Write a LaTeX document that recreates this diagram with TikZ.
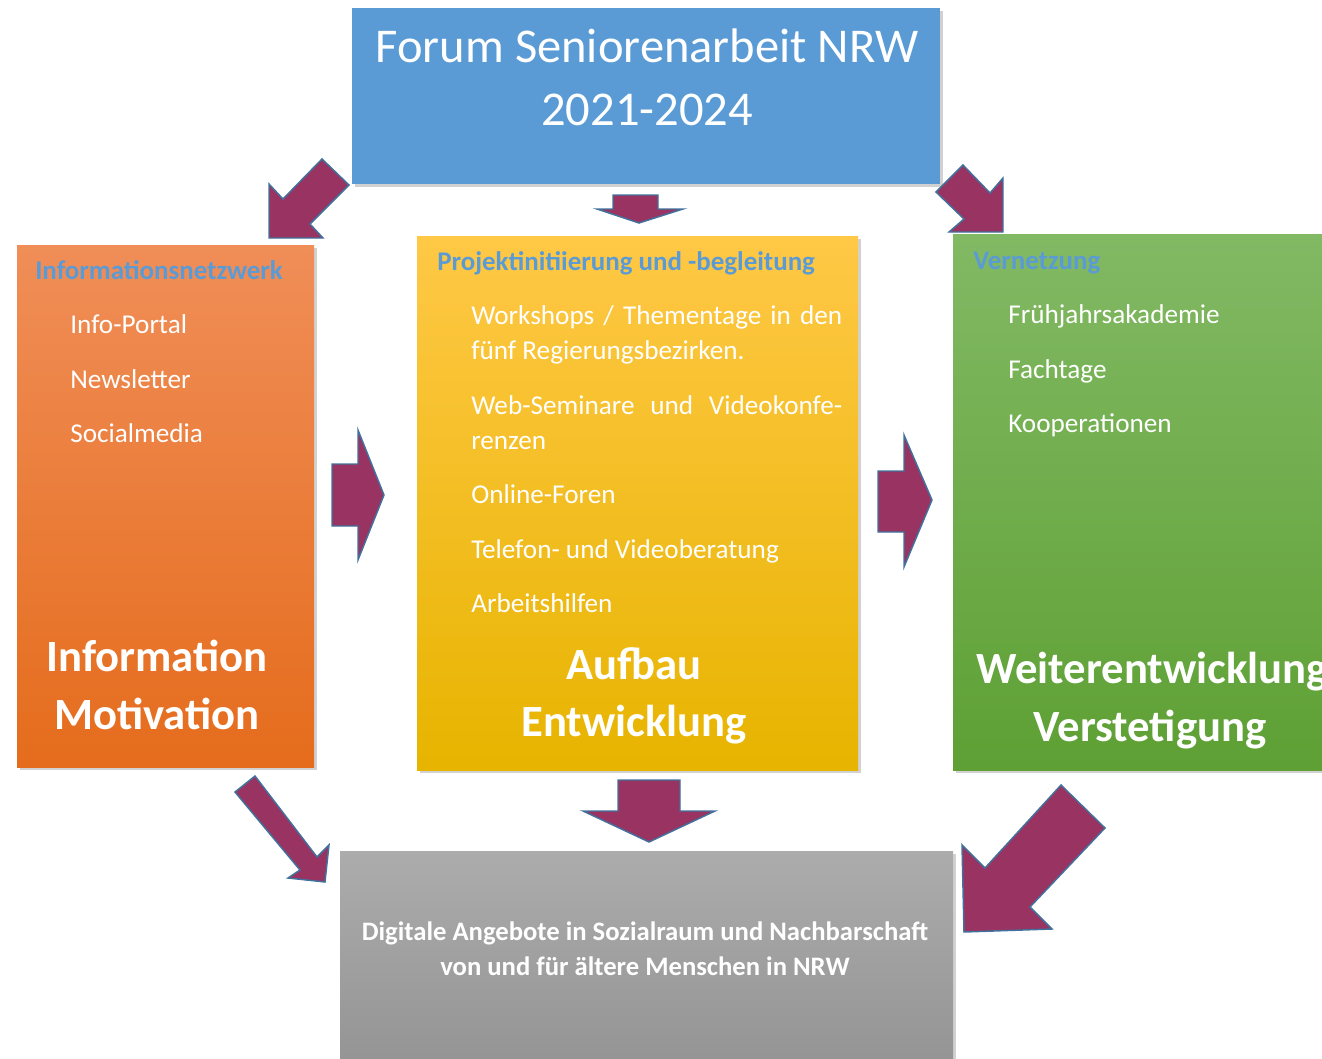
\documentclass[tikz,border=0pt]{standalone}
\usepackage{fontspec}
\setmainfont{Carlito}
\usetikzlibrary{shadows,fit}
\definecolor{boxblue}{RGB}{91,155,213}
\definecolor{hdrblue}{RGB}{91,155,213}
\definecolor{orTop}{RGB}{240,142,88}
\definecolor{orBot}{RGB}{229,108,28}
\definecolor{yeTop}{RGB}{255,200,70}
\definecolor{yeBot}{RGB}{231,180,0}
\definecolor{grTop}{RGB}{130,185,100}
\definecolor{grBot}{RGB}{94,160,52}
\definecolor{gyTop}{RGB}{172,172,172}
\definecolor{gyBot}{RGB}{142,142,142}
\definecolor{arrfill}{RGB}{153,51,98}
\definecolor{arredge}{RGB}{65,113,156}
\begin{document}
\begin{tikzpicture}[x=0.75pt,y=-0.75pt,
  panel/.style={inner sep=0pt, drop shadow={shadow xshift=2.5pt,shadow yshift=-2.5pt,opacity=0.3,fill=black!60}},
  blockarrow/.style={fill=arrfill, draw=arredge, line width=1.1pt, line join=miter},
  item/.style={text=white, font=\fontsize{20.4}{24}\selectfont, anchor=mid west, inner sep=0pt},
  hdr/.style={text=hdrblue, font=\bfseries\fontsize{20.2}{24}\selectfont, anchor=mid west, inner sep=0pt},
  bigtxt/.style={text=white, font=\bfseries\fontsize{33.5}{40}\selectfont, anchor=mid, inner sep=0pt},
  titletxt/.style={text=white, font=\fontsize{36.4}{45}\selectfont, anchor=mid, inner sep=0pt},
  bottxt/.style={text=white, font=\bfseries\fontsize{20}{24}\selectfont, anchor=mid, inner sep=0pt}]
\useasboundingbox (0,0) rectangle (1322,1058);
\clip (0,0) rectangle (1322,1058);

% arrows drawn first (behind panels)
\draw[blockarrow] (322,159) -- (283,199) -- (269,184) -- (269,238) -- (323,238) -- (310,224) -- (349,185) -- cycle;
\draw[blockarrow] (613,195) -- (658,195) -- (658,209) -- (683,209) -- (639,223) -- (597,209) -- (613,209) -- cycle;
\draw[blockarrow] (963,165) -- (990,193) -- (1003,178) -- (1003,232) -- (949,232) -- (964,219) -- (936,192) -- cycle;
\draw[blockarrow] (332,464) -- (358,464) -- (358,430) -- (384,495) -- (358,560) -- (358,526) -- (332,526) -- cycle;
\draw[blockarrow] (878,471) -- (904,471) -- (904,435) -- (932,500) -- (904,567) -- (904,532) -- (878,532) -- cycle;
\draw[blockarrow] (255,776) -- (317,857) -- (329,845) -- (325,882) -- (288,878) -- (300,870) -- (235,792) -- cycle;
\draw[blockarrow] (618,780) -- (680,780) -- (680,811) -- (715,811) -- (649,842) -- (583,811) -- (618,811) -- cycle;
\draw[blockarrow] (1061,785) -- (985,868) -- (962,845) -- (964,932) -- (1052,929) -- (1030,907) -- (1105,828) -- cycle;

% panels
\node[panel, fit={(352,8) (940,184)}, fill=boxblue] (top) {};
\node[panel, fit={(17,245) (314,767)}, top color=orTop, bottom color=orBot] (info) {};
\node[panel, fit={(417,236) (858,770)}, top color=yeTop, bottom color=yeBot] (proj) {};
\node[panel, fit={(953,234) (1400,770)}, top color=grTop, bottom color=grBot] (vern) {};
\node[panel, fit={(340,851) (953,1120)}, top color=gyTop, bottom color=gyBot] (digi) {};

% title
\node[titletxt] (t1) at (647,59) {Forum Seniorenarbeit NRW};
\node[titletxt] (t2) at (647,122) {2021-2024};

% left panel
\node[hdr] (h1) at (35,276) {Informationsnetzwerk};
\node[item] (i1) at (70,330) {Info-Portal};
\node[item] (i2) at (70,385) {Newsletter};
\node[item] (i3) at (70,439) {Socialmedia};
\node[bigtxt] (b1) at (157,668) {Information};
\node[bigtxt] (b2) at (157,726) {Motivation};

% middle panel
\node[hdr] (h2) at (437,267) {Projektinitiierung und -begleitung};
\node[item] (m1) at (471,321) {\makebox[278.25pt][s]{Workshops / Thementage in den}};
\node[item] (m2) at (471,356) {fünf Regierungsbezirken.};
\node[item] (m3) at (471,411) {\makebox[278.25pt][s]{Web-Seminare und Videokonfe-}};
\node[item] (m4) at (471,446) {renzen};
\node[item] (m5) at (471,500) {Online-Foren};
\node[item] (m6) at (471,555) {Telefon- und Videoberatung};
\node[item] (m7) at (471,609) {Arbeitshilfen};
\node[bigtxt] (b3) at (634,676) {Aufbau};
\node[bigtxt] (b4) at (634,733) {Entwicklung};

% right panel
\node[hdr] (h3) at (973,266) {Vernetzung};
\node[item] (r1) at (1008,320) {Frühjahrsakademie};
\node[item] (r2) at (1008,375) {Fachtage};
\node[item] (r3) at (1008,429) {Kooperationen};
\node[bigtxt] (b5) at (1152,680) {Weiterentwicklung};
\node[bigtxt] (b6) at (1150,738) {Verstetigung};

% bottom panel
\node[bottxt] (d1) at (645,937) {Digitale Angebote in Sozialraum und Nachbarschaft};
\node[bottxt] (d2) at (645,972) {von und für ältere Menschen in NRW};
\end{tikzpicture}
\end{document}
